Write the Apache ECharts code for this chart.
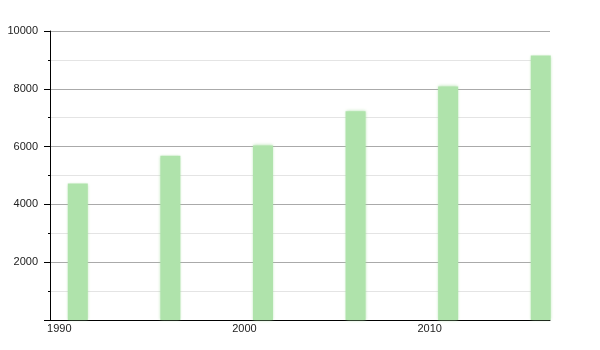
<!DOCTYPE html>
<html>
<head>
<meta charset="utf-8">
<script src="https://cdn.jsdelivr.net/npm/echarts@6/dist/echarts.min.js"></script>
<style>html,body{margin:0;padding:0;background:#fff}#c{width:600px;height:350px}</style>
</head>
<body>
<div id="c"></div>
<script>
const years = [1991, 1996, 2001, 2006, 2011, 2016];
const population = [4720, 5680, 6040, 7220, 8080, 9150];
const xLabelYears = [1990, 2000, 2010];

const chart = echarts.init(document.getElementById('c'), null, {renderer: 'canvas'});
chart.setOption({
  animation: false,
  grid: {left: 50, right: 50, top: 31, bottom: 30, containLabel: false},
  xAxis: {
    type: 'value', min: 1989.5, max: 2016.5,
    axisLine: {show: true, lineStyle: {color: '#000', width: 1}},
    axisTick: {show: false},
    splitLine: {show: false},
    axisLabel: {
      customValues: xLabelYears, color: '#222', fontFamily: 'Liberation Sans', fontSize: 11,
      margin: 3, formatter: v => String(v)
    }
  },
  yAxis: {
    type: 'value', min: 0, max: 10000, interval: 2000,
    axisLine: {show: true, lineStyle: {color: '#000', width: 1}},
    axisTick: {show: true, length: 6, lineStyle: {color: '#000'}},
    minorTick: {show: true, splitNumber: 2, length: 2, lineStyle: {color: '#000'}},
    splitLine: {show: true, lineStyle: {color: '#aaaaaa', width: 1}},
    minorSplitLine: {show: true, lineStyle: {color: '#e4e4e4', width: 1}},
    axisLabel: {
      showMinLabel: false, color: '#222', fontFamily: 'Liberation Sans', fontSize: 11, margin: 12,
      formatter: v => v === 0 ? '' : String(v)
    }
  },
  series: [{
    type: 'bar',
    data: years.map((y, i) => [y, population[i]]),
    barWidth: 20,
    itemStyle: {color: '#afe3ab', shadowColor: 'rgba(160,220,155,0.8)', shadowBlur: 3}
  }]
});
</script>
</body>
</html>
